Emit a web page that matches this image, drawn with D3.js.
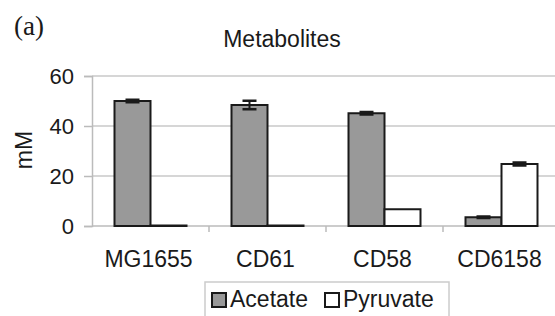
<!DOCTYPE html>
<html>
<head>
<meta charset="utf-8">
<script src="https://cdn.jsdelivr.net/npm/d3@7"></script>
<style>
  body { margin: 0; background: #fff; }
  text { font-family: "Liberation Sans", Arial, sans-serif; fill: #1a1a1a; }
</style>
</head>
<body>
<svg id="chart" width="555" height="316"></svg>
<script>
// data
var strains = ["MG1655", "CD61", "CD58", "CD6158"];
var series = ["Acetate", "Pyruvate"];
var acetate = [50.0, 48.4, 45.1, 3.5];
var acetateErr = [0.5, 1.7, 0.5, 0.3];
var pyruvate = [0.2, 0.2, 6.7, 24.8];
var pyruvateErr = [0, 0, 0, 0.6];
var yTicks = [0, 20, 40, 60];

var colors = { Acetate: "#999999", Pyruvate: "#ffffff" };

var svg = d3.select("#chart");

// category scale runs a bit past the right edge, like the original crop
var x0 = d3.scaleBand().domain(strains).range([92, 560]).paddingInner(0).paddingOuter(0);
var x1 = d3.scaleBand().domain(series).range([0, x0.bandwidth()]).paddingInner(0).paddingOuter(0.625);
var y = d3.scaleLinear().domain([0, 60]).range([226, 76]);

// gridlines
svg.append("g")
  .selectAll("line")
  .data(yTicks.slice(1))
  .join("line")
  .attr("x1", 92).attr("x2", 555)
  .attr("y1", d => y(d)).attr("y2", d => y(d))
  .attr("stroke", "#c8c8c8").attr("stroke-width", 1.5);

// y axis
var yAxis = svg.append("g")
  .attr("transform", "translate(92,0)")
  .call(d3.axisLeft(y).tickValues(yTicks).tickSize(8).tickPadding(10));
yAxis.select(".domain").attr("stroke", "#bbbbbb").attr("stroke-width", 1.5);
yAxis.selectAll(".tick line").attr("stroke", "#bbbbbb").attr("stroke-width", 1.5);
yAxis.selectAll(".tick text")
  .style("font-family", "'Liberation Sans', Arial, sans-serif")
  .style("font-size", "22px").attr("fill", "#1a1a1a").attr("dy", "0.36em");

// x axis baseline + boundary ticks
svg.append("line")
  .attr("x1", 92).attr("x2", 555).attr("y1", y(0)).attr("y2", y(0))
  .attr("stroke", "#bbbbbb").attr("stroke-width", 1.5);
svg.append("g")
  .selectAll("line")
  .data(strains.slice(1))
  .join("line")
  .attr("x1", d => x0(d)).attr("x2", d => x0(d))
  .attr("y1", y(0)).attr("y2", y(0) + 6)
  .attr("stroke", "#bbbbbb").attr("stroke-width", 1.5);

// category labels
svg.append("g")
  .selectAll("text")
  .data(strains)
  .join("text")
  .attr("x", d => x0(d) + x0.bandwidth() / 2 - 2)
  .attr("y", 267)
  .attr("text-anchor", "middle")
  .style("font-size", "23px")
  .text(d => d);

// bars
var rows = strains.map(function(s, i) {
  return [
    { strain: s, key: "Acetate", value: acetate[i], err: acetateErr[i] },
    { strain: s, key: "Pyruvate", value: pyruvate[i], err: pyruvateErr[i] }
  ];
});

var groups = svg.append("g")
  .selectAll("g")
  .data(rows)
  .join("g")
  .attr("transform", d => "translate(" + x0(d[0].strain) + ",0)");

groups.selectAll("rect")
  .data(d => d)
  .join("rect")
  .attr("x", d => x1(d.key))
  .attr("width", x1.bandwidth())
  .attr("y", d => y(d.value))
  .attr("height", d => y(0) - y(d.value))
  .attr("fill", d => colors[d.key])
  .attr("stroke", "#1a1a1a")
  .attr("stroke-width", 2);

// error bars
var errs = groups.selectAll("g.err")
  .data(d => d.filter(e => e.err > 0))
  .join("g")
  .attr("class", "err");
errs.append("line")
  .attr("x1", d => x1(d.key) + x1.bandwidth() / 2)
  .attr("x2", d => x1(d.key) + x1.bandwidth() / 2)
  .attr("y1", d => y(d.value + d.err))
  .attr("y2", d => y(d.value - d.err))
  .attr("stroke", "#1a1a1a").attr("stroke-width", 2);
errs.selectAll("line.cap")
  .data(d => [d.value + d.err, d.value - d.err].map(v => ({ key: d.key, v: v })))
  .join("line")
  .attr("class", "cap")
  .attr("x1", d => x1(d.key) + x1.bandwidth() / 2 - 7)
  .attr("x2", d => x1(d.key) + x1.bandwidth() / 2 + 7)
  .attr("y1", d => y(d.v)).attr("y2", d => y(d.v))
  .attr("stroke", "#1a1a1a").attr("stroke-width", 2.5);

// y label
svg.append("text")
  .attr("transform", "translate(32,150) rotate(-90)")
  .attr("text-anchor", "middle")
  .style("font-size", "23px")
  .text("mM");

// title
svg.append("text")
  .attr("x", 282).attr("y", 47)
  .attr("text-anchor", "middle")
  .style("font-size", "23px")
  .text("Metabolites");

// panel letter
svg.append("text")
  .attr("x", 14).attr("y", 35)
  .style("font-family", "'Liberation Serif', 'Times New Roman', serif")
  .style("font-size", "27px")
  .text("(a)");

// legend
var legend = svg.append("g").attr("transform", "translate(205,282)");
legend.append("rect")
  .attr("width", 244).attr("height", 44)
  .attr("fill", "#fff").attr("stroke", "#cccccc").attr("stroke-width", 1.5);
var legX = [7, 120];
var items = legend.selectAll("g")
  .data(series)
  .join("g")
  .attr("transform", (d, i) => "translate(" + legX[i] + ",11)");
items.append("rect")
  .attr("width", 14).attr("height", 14)
  .attr("fill", d => colors[d])
  .attr("stroke", "#1a1a1a").attr("stroke-width", 2);
items.append("text")
  .attr("x", 18).attr("y", 14)
  .style("font-size", "23px")
  .text(d => d);
</script>
</body>
</html>
